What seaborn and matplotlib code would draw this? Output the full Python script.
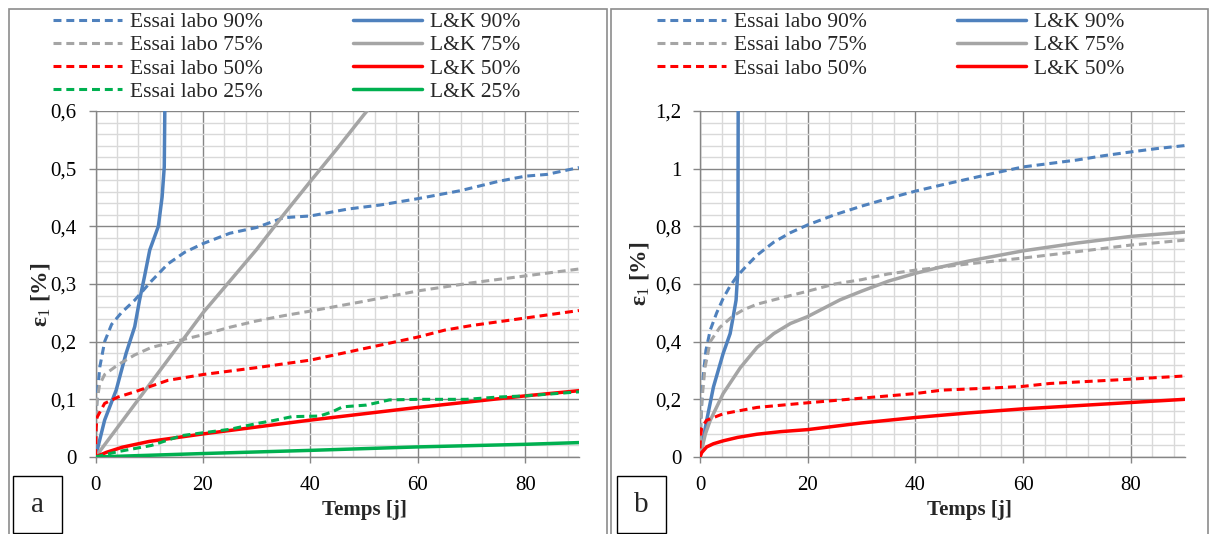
import pandas as pd
import numpy as np
import matplotlib
matplotlib.use('Agg')
import matplotlib.pyplot as plt
import seaborn as sns
from matplotlib.ticker import MultipleLocator, FuncFormatter
from matplotlib.patches import Rectangle
from matplotlib.lines import Line2D

# --- Data ---
# panel a
t_lab90_a = [0, 0.2, 0.45, 0.8, 1.7, 3, 4.8, 7.3, 10.4, 13.5, 16.6, 20, 25, 30, 35, 40, 47, 53, 60, 68, 75, 80, 84, 90]
e_lab90_a = [0, 0.09, 0.12, 0.156, 0.2, 0.23, 0.25, 0.272, 0.305, 0.335, 0.355, 0.37, 0.388, 0.398, 0.415, 0.418, 0.43, 0.437, 0.448, 0.462, 0.478, 0.487, 0.49, 0.502]
t_lk90_a = [0, 1.7, 3.85, 5.7, 7.3, 8.2, 9.1, 10.1, 11, 11.7, 12.4, 12.8, 12.9, 13.0]
e_lk90_a = [0, 0.064, 0.116, 0.18, 0.226, 0.272, 0.312, 0.359, 0.382, 0.40, 0.451, 0.503, 0.6, 0.7]
t_lab75_a = [0, 0.3, 0.75, 1.7, 4.2, 7.3, 10.4, 16, 20, 25, 30, 35, 40, 50, 60, 70, 80, 90]
e_lab75_a = [0, 0.098, 0.125, 0.143, 0.16, 0.177, 0.19, 0.203, 0.212, 0.225, 0.236, 0.245, 0.253, 0.27, 0.288, 0.302, 0.314, 0.326]
t_lk75_a = [0, 4, 8, 12, 16, 20, 25, 30, 35, 40, 45, 50, 55]
e_lk75_a = [0, 0.05, 0.1, 0.15, 0.2, 0.25, 0.305, 0.36, 0.42, 0.478, 0.535, 0.594, 0.65]
t_lab50_a = [0, 0.1, 0.3, 1.7, 4.2, 7.3, 13.5, 20, 30, 40, 50, 55, 60, 65, 70, 80, 90]
e_lab50_a = [0, 0.05, 0.069, 0.093, 0.104, 0.113, 0.133, 0.143, 0.155, 0.168, 0.188, 0.198, 0.208, 0.22, 0.228, 0.241, 0.254]
t_lk50_a = [0, 2, 5, 10, 20, 30, 40, 50, 60, 70, 80, 90]
e_lk50_a = [0, 0.008, 0.017, 0.027, 0.04, 0.052, 0.064, 0.075, 0.086, 0.096, 0.106, 0.115]
t_lab25_a = [0, 4, 10.4, 16, 20, 25, 30, 33, 36.6, 41.7, 44, 46, 50.4, 54.7, 60, 69, 75, 80, 90]
e_lab25_a = [0, 0.009, 0.02, 0.037, 0.042, 0.048, 0.058, 0.063, 0.07, 0.071, 0.078, 0.087, 0.09, 0.099, 0.1, 0.1, 0.104, 0.106, 0.113]
t_lk25_a = [0, 20, 40, 60, 80, 90]
e_lk25_a = [0, 0.006, 0.0115, 0.0175, 0.022, 0.025]

# panel b
t_lab90_b = [0, 0.15, 0.35, 0.6, 1.1, 1.9, 3.1, 4.3, 5.5, 6.8, 8.5, 10.6, 13.7, 16.8, 20, 25, 30, 35, 40, 45, 50, 55, 60, 65, 70, 75, 80, 85, 90]
e_lab90_b = [0, 0.12, 0.2, 0.28, 0.37, 0.44, 0.5, 0.55, 0.59, 0.625, 0.66, 0.7, 0.745, 0.778, 0.805, 0.84, 0.87, 0.897, 0.922, 0.944, 0.965, 0.986, 1.006, 1.018, 1.03, 1.045, 1.058, 1.07, 1.08]
t_lk90_b = [0, 1.24, 2.5, 4.3, 5.6, 6.2, 6.7, 7.0, 7.05, 7.1]
e_lk90_b = [0, 0.127, 0.243, 0.359, 0.428, 0.49, 0.544, 0.637, 0.75, 1.3]
t_lab75_b = [0, 0.15, 0.37, 0.93, 1.9, 3.7, 6.2, 8, 10.6, 16.8, 20, 25, 30, 35, 40, 50, 60, 70, 80, 90]
e_lab75_b = [0, 0.12, 0.2, 0.31, 0.4, 0.45, 0.49, 0.51, 0.53, 0.56, 0.575, 0.6, 0.615, 0.635, 0.648, 0.67, 0.69, 0.712, 0.735, 0.752]
t_lk75_b = [0, 1, 1.9, 4.3, 7.5, 10.6, 13.7, 16.8, 20, 26, 30, 35, 40, 45, 50, 60, 70, 80, 90]
e_lk75_b = [0, 0.08, 0.127, 0.22, 0.31, 0.38, 0.428, 0.463, 0.487, 0.545, 0.575, 0.61, 0.637, 0.66, 0.68, 0.715, 0.742, 0.765, 0.78]
t_lab50_b = [0, 0.1, 0.3, 1.2, 4.3, 10.6, 20, 35, 40, 45, 50, 55, 60, 65, 70, 80, 90]
e_lab50_b = [0.03, 0.07, 0.1, 0.127, 0.15, 0.172, 0.188, 0.212, 0.22, 0.232, 0.236, 0.24, 0.245, 0.255, 0.26, 0.27, 0.281]
t_lk50_b = [0, 0.3, 1.24, 2.5, 4.3, 7, 10.6, 15, 20, 30, 40, 50, 60, 70, 80, 90]
e_lk50_b = [0, 0.015, 0.035, 0.046, 0.056, 0.068, 0.079, 0.088, 0.095, 0.118, 0.137, 0.153, 0.167, 0.178, 0.189, 0.2]

levels_a = ['90%', '75%', '50%', '25%']
levels_b = ['90%', '75%', '50%']
colors = {'90%': '#4f81bd', '75%': '#a5a5a5', '50%': '#ff0000', '25%': '#00b050'}

series_a = {
    '90%': ((t_lab90_a, e_lab90_a), (t_lk90_a, e_lk90_a)),
    '75%': ((t_lab75_a, e_lab75_a), (t_lk75_a, e_lk75_a)),
    '50%': ((t_lab50_a, e_lab50_a), (t_lk50_a, e_lk50_a)),
    '25%': ((t_lab25_a, e_lab25_a), (t_lk25_a, e_lk25_a)),
}
series_b = {
    '90%': ((t_lab90_b, e_lab90_b), (t_lk90_b, e_lk90_b)),
    '75%': ((t_lab75_b, e_lab75_b), (t_lk75_b, e_lk75_b)),
    '50%': ((t_lab50_b, e_lab50_b), (t_lk50_b, e_lk50_b)),
}

sns.set_theme(style="white")
plt.rcParams['font.family'] = ['Liberation Serif', 'DejaVu Serif']
plt.rcParams['mathtext.fontset'] = 'custom'
plt.rcParams['mathtext.rm'] = 'Liberation Serif'
plt.rcParams['mathtext.it'] = 'Liberation Serif'
plt.rcParams['mathtext.bf'] = 'Liberation Serif:bold'

W, H = 1212, 534
fig = plt.figure(figsize=(W / 100, H / 100), dpi=100)

DASH = (0, (2.6, 1.6))
LW = 2.2
MAJ = '#868686'
MIN = '#d9d9d9'


def px(x0, y0, x1, y1):
    # pixel box -> figure fraction [left, bottom, width, height]
    return [x0 / W, 1 - y1 / H, (x1 - x0) / W, (y1 - y0) / H]


def comma_fmt(v, pos):
    return f'{round(v, 2):g}'.replace('.', ',')


def panel(rect, series, levels, ymax, ystep, letter, frame, box, ylab_xy, leg_anchor):
    # outer frame
    fx0, fx1 = frame
    fig.add_artist(Rectangle((fx0 / W, -0.02), (fx1 - fx0) / W, 1.02 - 9 / H,
                             transform=fig.transFigure, fill=False, edgecolor='#8c8c8c', lw=1.2))
    ax = fig.add_axes(px(*rect))
    handles_lab, handles_lk = [], []
    for lv in levels:
        (tl, el), (tk, ek) = series[lv]
        sns.lineplot(x=tl, y=el, ax=ax, color=colors[lv], lw=LW, linestyle=DASH,
                     estimator=None, sort=False, zorder=3)
        sns.lineplot(x=tk, y=ek, ax=ax, color=colors[lv], lw=LW + 0.3,
                     estimator=None, sort=False, zorder=3)
        handles_lab.append(Line2D([], [], color=colors[lv], lw=LW, linestyle=DASH))
        handles_lk.append(Line2D([], [], color=colors[lv], lw=LW + 0.3))

    ax.set_xlim(0, 90)
    ax.set_ylim(0, ymax)
    ax.xaxis.set_major_locator(MultipleLocator(20))
    ax.xaxis.set_minor_locator(MultipleLocator(4))
    ax.yaxis.set_major_locator(MultipleLocator(ystep))
    ax.yaxis.set_minor_locator(MultipleLocator(ystep / 5))
    ax.xaxis.set_major_formatter(FuncFormatter(comma_fmt))
    ax.yaxis.set_major_formatter(FuncFormatter(comma_fmt))
    ax.grid(which='major', color=MAJ, lw=1.0)
    ax.grid(which='minor', color=MIN, lw=1.0)
    ax.set_axisbelow(True)
    for s in ['top', 'right']:
        ax.spines[s].set_visible(False)
    for s in ['left', 'bottom']:
        ax.spines[s].set_color(MAJ)
        ax.spines[s].set_linewidth(1.0)
    ax.tick_params(which='major', axis='both', direction='out', width=1,
                   color=MAJ, labelsize=15, labelcolor='black')
    ax.tick_params(which='major', axis='x', length=4, pad=10, bottom=True)
    ax.tick_params(which='major', axis='y', length=5, pad=8.5, left=True)
    ax.tick_params(which='minor', length=0)

    ax.set_xlabel('Temps [j]', fontsize=15, fontweight='bold', va='center')
    ax.xaxis.set_label_coords(0.557, -0.152)
    ax.set_ylabel(r'ε$_1$ [%]', fontsize=17, fontweight='bold', va='center')
    ax.yaxis.set_label_coords(*ylab_xy)

    ax.legend(handles_lab + handles_lk,
              [f'Essai labo {lv}' for lv in levels] + [f'L&K {lv}' for lv in levels],
              ncol=2, loc='upper left', bbox_to_anchor=leg_anchor, bbox_transform=fig.transFigure,
              frameon=False, fontsize=15.5, handlelength=3.2, handletextpad=0.37,
              columnspacing=4.2, labelspacing=0.15, borderaxespad=0, borderpad=0)

    # letter box
    bx0, by0, bx1, by1 = box
    fig.add_artist(Rectangle((bx0 / W, 1 - by1 / H), (bx1 - bx0) / W, (by1 - by0) / H,
                             transform=fig.transFigure, fill=False, edgecolor='black', lw=1.0))
    fig.text((bx0 + bx1) / 2 / W, 1 - (by0 + by1) / 2 / H, letter, ha='center', va='center',
             fontsize=21)
    return ax


ax_a = panel((95.5, 111, 579, 457), series_a, levels_a, 0.6, 0.1, 'a',
             (9, 607), (13, 476, 62, 533), (-0.113, 0.47), (53 / W, 1 - 12 / H))
ax_b = panel((700, 111, 1184.5, 457), series_b, levels_b, 1.2, 0.2, 'b',
             (611, 1208), (617, 476, 666, 533), (-0.124, 0.53), (657 / W, 1 - 12 / H))

plt.savefig('out.png', dpi=100)
